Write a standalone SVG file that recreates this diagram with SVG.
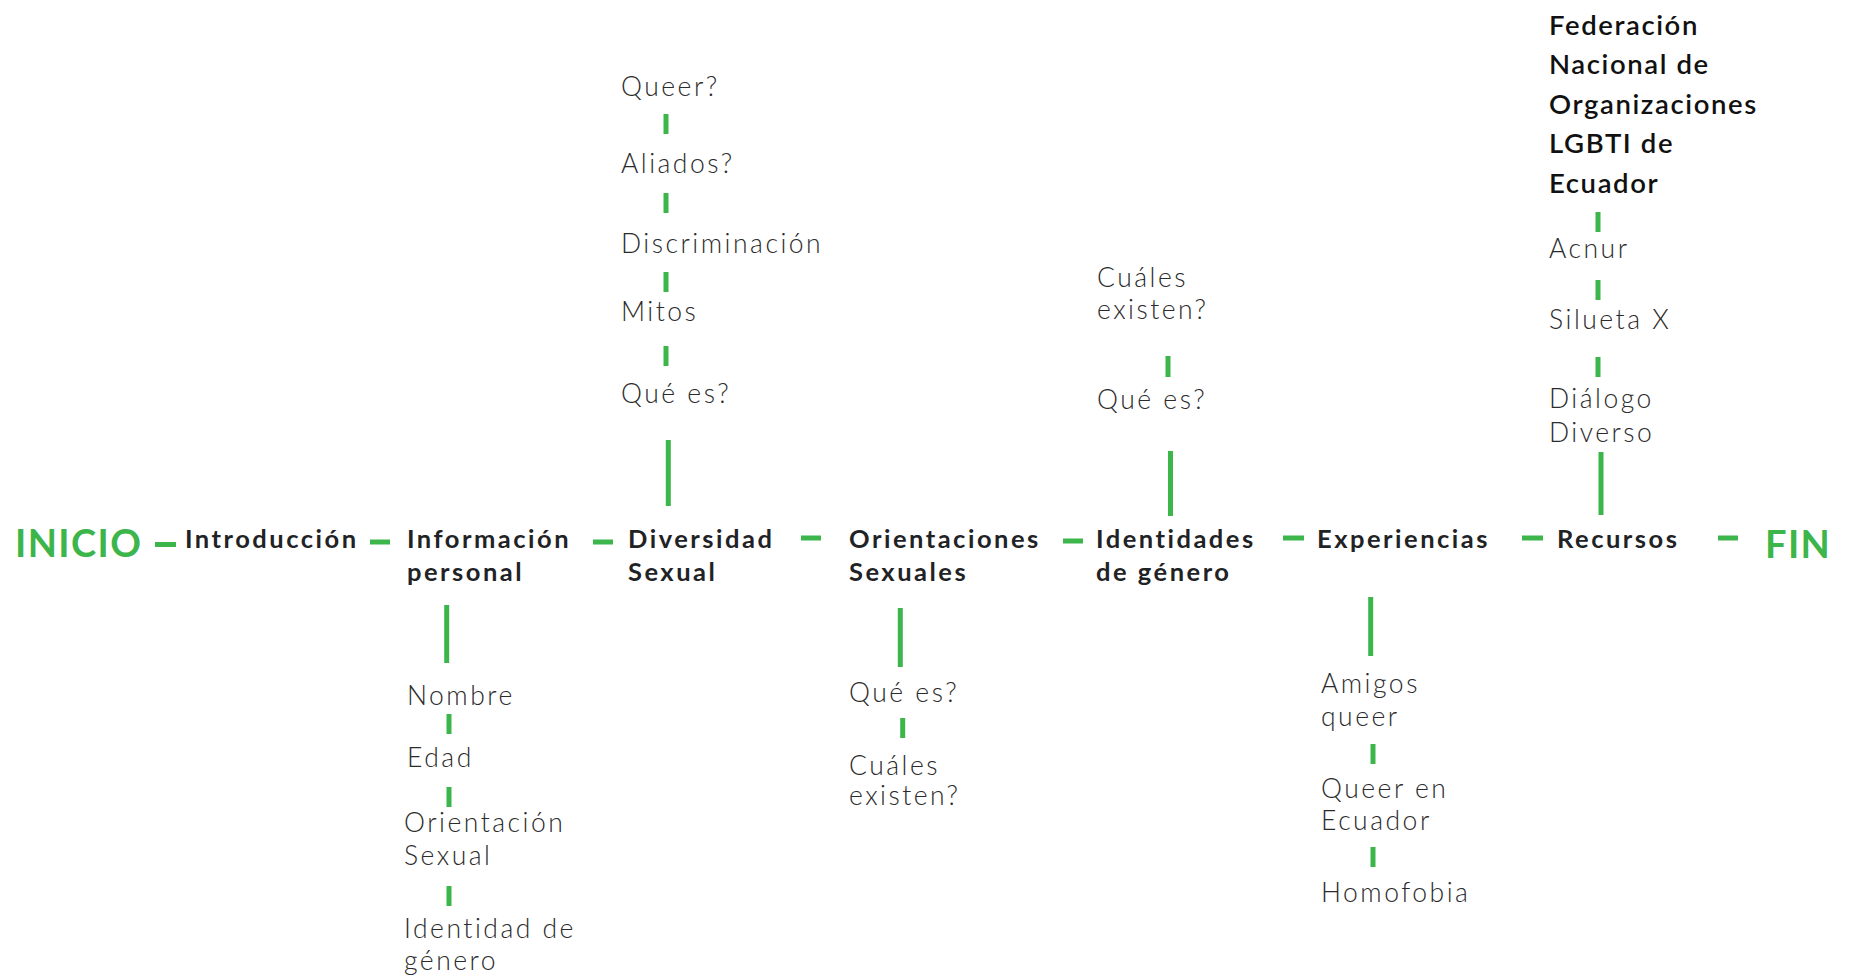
<svg xmlns="http://www.w3.org/2000/svg" width="1856" height="979" viewBox="0 0 1856 979">
<style>
.bg{fill:#ffffff}
.main{font-family:Lato,"Liberation Sans",sans-serif;font-weight:700;font-size:25.5px;fill:#1f2326;letter-spacing:2.5px}
.sub{font-family:Lato,"Liberation Sans",sans-serif;font-weight:300;font-size:26.5px;fill:#2b2b2b;letter-spacing:2.5px}
.term{font-family:Lato,"Liberation Sans",sans-serif;font-weight:700;font-size:38px;fill:#3cb54a;letter-spacing:1.4px}
.fed{font-family:Lato,"Liberation Sans",sans-serif;font-weight:600;font-size:27.5px;fill:#111111;letter-spacing:1.6px}
.c line{stroke:#3cb54a;stroke-width:5;stroke-linecap:butt}
</style>
<rect class="bg" x="0" y="0" width="1856" height="979"/>
<g id="connectors" class="c">
<line x1="155" y1="544.5" x2="176" y2="544.5"/>
<line x1="370" y1="542" x2="390" y2="542"/>
<line x1="593" y1="542" x2="613" y2="542"/>
<line x1="801" y1="538" x2="821" y2="538"/>
<line x1="1063" y1="541" x2="1083" y2="541"/>
<line x1="1283" y1="538" x2="1304" y2="538"/>
<line x1="1522" y1="538" x2="1543" y2="538"/>
<line x1="1718" y1="538" x2="1738" y2="538"/>
<line x1="446.7" y1="605" x2="446.7" y2="663"/>
<line x1="449" y1="714" x2="449" y2="734"/>
<line x1="449" y1="787" x2="449" y2="807"/>
<line x1="449" y1="886" x2="449" y2="906"/>
<line x1="666" y1="114" x2="666" y2="134"/>
<line x1="666" y1="193" x2="666" y2="213"/>
<line x1="666" y1="272" x2="666" y2="292"/>
<line x1="666" y1="346" x2="666" y2="366"/>
<line x1="668.3" y1="440" x2="668.3" y2="506"/>
<line x1="900.3" y1="608" x2="900.3" y2="667"/>
<line x1="902.7" y1="718" x2="902.7" y2="738"/>
<line x1="1168" y1="356" x2="1168" y2="377"/>
<line x1="1170.5" y1="451" x2="1170.5" y2="516"/>
<line x1="1370.7" y1="597" x2="1370.7" y2="656"/>
<line x1="1373" y1="744" x2="1373" y2="764"/>
<line x1="1373" y1="847" x2="1373" y2="867"/>
<line x1="1598" y1="212" x2="1598" y2="232"/>
<line x1="1598" y1="280" x2="1598" y2="300"/>
<line x1="1598" y1="357" x2="1598" y2="377"/>
<line x1="1601" y1="452" x2="1601" y2="515"/>
</g>
<g id="inicio"><text class="term" x="15" y="557">INICIO</text></g>
<g id="introduccion"><text class="main" x="185" y="547.5">Introducción</text></g>
<g id="informacion"><text class="main" x="407" y="547.5">Información<tspan x="407" y="581">personal</tspan></text></g>
<g id="diversidad"><text class="main" x="628" y="547.5">Diversidad<tspan x="628" y="581">Sexual</tspan></text></g>
<g id="orientaciones"><text class="main" x="849" y="547.5">Orientaciones<tspan x="849" y="581">Sexuales</tspan></text></g>
<g id="identidades"><text class="main" x="1096" y="547.5">Identidades<tspan x="1096" y="581">de género</tspan></text></g>
<g id="experiencias"><text class="main" x="1317" y="547.5">Experiencias</text></g>
<g id="recursos"><text class="main" x="1557" y="547.5">Recursos</text></g>
<g id="fin"><text class="term" x="1765" y="558">FIN</text></g>
<g id="nombre"><text class="sub" x="407" y="705">Nombre</text></g>
<g id="edad"><text class="sub" x="407" y="767">Edad</text></g>
<g id="orientacion-sexual"><text class="sub" x="404" y="832">Orientación<tspan x="404" y="865">Sexual</tspan></text></g>
<g id="identidad-genero"><text class="sub" x="404" y="938">Identidad de<tspan x="404" y="970">género</tspan></text></g>
<g id="queer"><text class="sub" x="621" y="96">Queer?</text></g>
<g id="aliados"><text class="sub" x="621" y="173">Aliados?</text></g>
<g id="discriminacion"><text class="sub" x="621" y="253">Discriminación</text></g>
<g id="mitos"><text class="sub" x="621" y="321">Mitos</text></g>
<g id="div-que-es"><text class="sub" x="621" y="403">Qué es?</text></g>
<g id="ori-que-es"><text class="sub" x="849" y="702">Qué es?</text></g>
<g id="ori-cuales"><text class="sub" x="849" y="775">Cuáles<tspan x="849" y="805">existen?</tspan></text></g>
<g id="ide-cuales"><text class="sub" x="1097" y="287">Cuáles<tspan x="1097" y="319">existen?</tspan></text></g>
<g id="ide-que-es"><text class="sub" x="1097" y="409">Qué es?</text></g>
<g id="amigos"><text class="sub" x="1321" y="693">Amigos<tspan x="1321" y="726">queer</tspan></text></g>
<g id="queer-ecuador"><text class="sub" x="1321" y="798">Queer en<tspan x="1321" y="830">Ecuador</tspan></text></g>
<g id="homofobia"><text class="sub" x="1321" y="902">Homofobia</text></g>
<g id="federacion"><text class="fed" x="1549" y="35">Federación<tspan x="1549" y="74">Nacional de</tspan><tspan x="1549" y="113.5">Organizaciones</tspan><tspan x="1549" y="153">LGBTI de</tspan><tspan x="1549" y="193">Ecuador</tspan></text></g>
<g id="acnur"><text class="sub" x="1549" y="258">Acnur</text></g>
<g id="silueta"><text class="sub" x="1549" y="329">Silueta X</text></g>
<g id="dialogo"><text class="sub" x="1549" y="408">Diálogo<tspan x="1549" y="442">Diverso</tspan></text></g>
</svg>
